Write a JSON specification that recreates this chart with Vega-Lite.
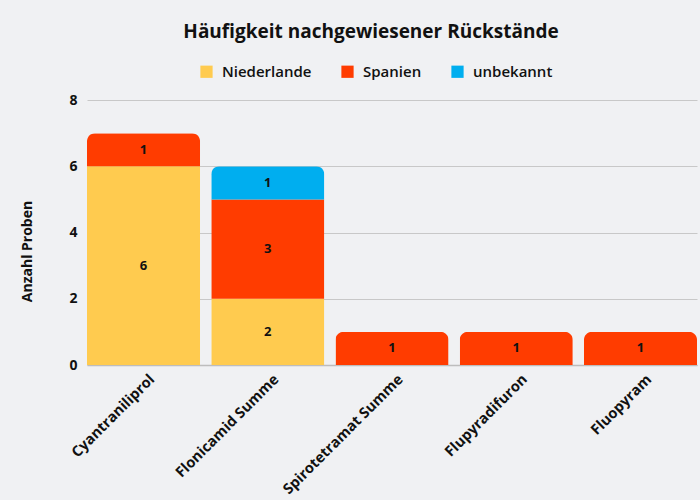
{
  "$schema": "https://vega.github.io/schema/vega-lite/v6.json",
  "width": 610,
  "height": 265,
  "autosize": {"type": "none"},
  "padding": {"left": 87, "top": 100, "right": 3, "bottom": 135},
  "background": "#f0f1f3",
  "config": {
    "font": "Open Sans",
    "view": {"stroke": null},
    "axis": {"labelFont": "Open Sans", "titleFont": "Open Sans"}
  },
  "title": {
    "text": "Häufigkeit nachgewiesener Rückstände",
    "font": "Open Sans",
    "fontSize": 19,
    "fontWeight": "bold",
    "color": "#111111",
    "anchor": "middle",
    "dx": -21,
    "offset": 22
  },
  "data": {
    "values": [
      {"Wirkstoff": "Cyantraniliprol", "Herkunft": "Niederlande", "Anzahl": 6},
      {"Wirkstoff": "Cyantraniliprol", "Herkunft": "Spanien", "Anzahl": 1},
      {"Wirkstoff": "Flonicamid Summe", "Herkunft": "Niederlande", "Anzahl": 2},
      {"Wirkstoff": "Flonicamid Summe", "Herkunft": "Spanien", "Anzahl": 3},
      {"Wirkstoff": "Flonicamid Summe", "Herkunft": "unbekannt", "Anzahl": 1},
      {"Wirkstoff": "Spirotetramat Summe", "Herkunft": "Spanien", "Anzahl": 1},
      {"Wirkstoff": "Flupyradifuron", "Herkunft": "Spanien", "Anzahl": 1},
      {"Wirkstoff": "Fluopyram", "Herkunft": "Spanien", "Anzahl": 1}
    ]
  },
  "encoding": {
    "x": {
      "field": "Wirkstoff",
      "type": "nominal",
      "sort": null,
      "scale": {"paddingInner": 0.09, "paddingOuter": 0},
      "axis": {
        "title": null,
        "labelAngle": -45,
        "labelAlign": "right",
        "labelBaseline": "middle",
        "labelFontSize": 14.6,
        "labelFontWeight": "bold",
        "labelColor": "#111111",
        "labelOffset": 9,
        "ticks": false,
        "labelPadding": 12,
        "domainColor": "#bdbdbd",
        "domainWidth": 1.5
      }
    }
  },
  "layer": [
    {
      "mark": {"type": "bar", "cornerRadiusEnd": 8},
      "encoding": {
        "y": {
          "field": "Anzahl",
          "type": "quantitative",
          "stack": "zero",
          "scale": {"domain": [0, 8]},
          "axis": {
            "title": "Anzahl Proben",
            "titleFontSize": 14,
            "titleFontWeight": "bold",
            "titleColor": "#111111",
            "titlePadding": 34,
            "titleY": 151,
            "values": [0, 2, 4, 6, 8],
            "labelFontSize": 14,
            "labelFontWeight": "bold",
            "labelColor": "#111111",
            "labelPadding": 10,
            "ticks": false,
            "domain": false,
            "gridColor": "#c8c8c8",
            "gridWidth": 1
          }
        },
        "color": {
          "field": "Herkunft",
          "type": "nominal",
          "scale": {"domain": ["Niederlande", "Spanien", "unbekannt"], "range": ["#ffcb4f", "#ff3c00", "#00aeef"]},
          "legend": {
            "title": null,
            "orient": "none",
            "direction": "horizontal",
            "legendX": 112,
            "legendY": -36,
            "symbolType": "square",
            "symbolSize": 150,
            "symbolStrokeWidth": 0,
            "labelFont": "Open Sans",
            "labelFontSize": 15,
            "labelFontWeight": 600,
            "labelColor": "#111111",
            "columnPadding": 28,
            "labelOffset": 8
          }
        },
        "order": {"field": "Herkunft", "sort": "ascending"}
      }
    },
    {
      "transform": [
        {"stack": "Anzahl", "groupby": ["Wirkstoff"], "sort": [{"field": "Herkunft", "order": "ascending"}], "as": ["y0", "y1"]},
        {"calculate": "(datum.y0 + datum.y1) / 2", "as": "mitte"}
      ],
      "mark": {"type": "text", "font": "Open Sans", "fontSize": 13, "fontWeight": "bold", "color": "#111111"},
      "encoding": {
        "y": {"field": "mitte", "type": "quantitative"},
        "text": {"field": "Anzahl", "type": "quantitative"}
      }
    }
  ]
}
